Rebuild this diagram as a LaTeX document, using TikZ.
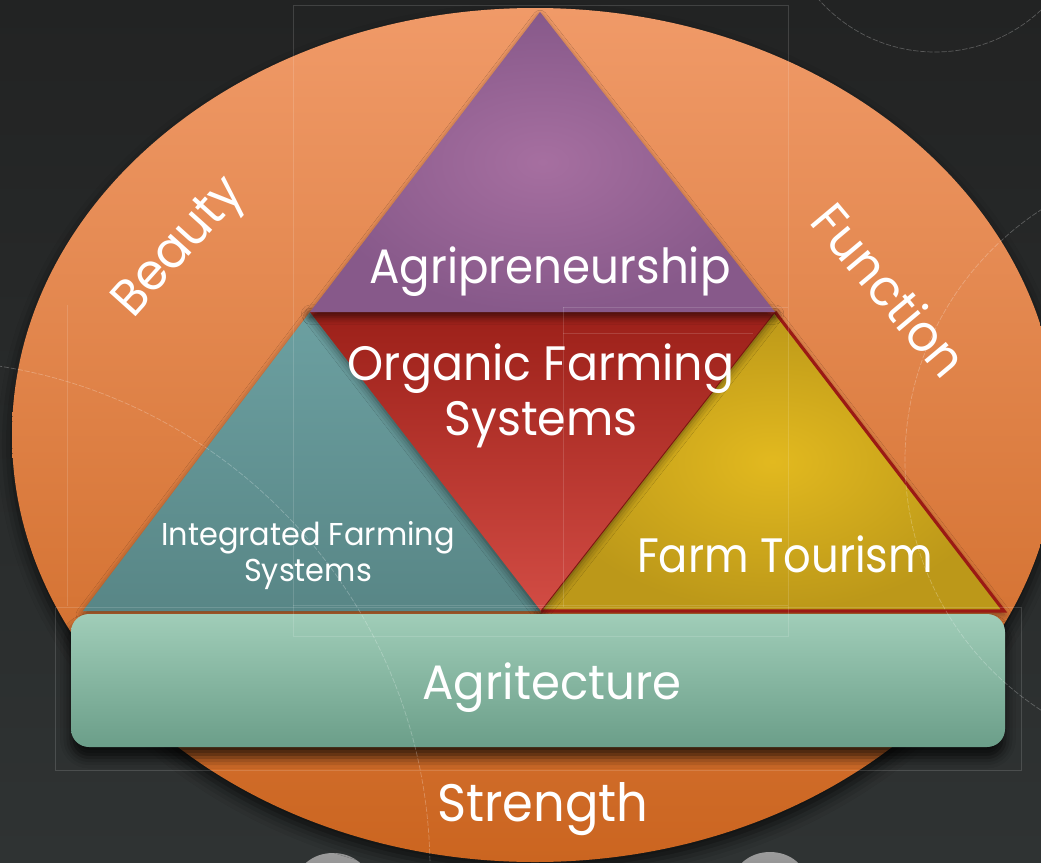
\documentclass[tikz,border=0pt]{standalone}
\usepackage{fontspec}
\setmainfont{Poppins}
\usetikzlibrary{shadows.blur}

\definecolor{bgtop}{HTML}{222323}
\definecolor{bgbot}{HTML}{2F3333}
\definecolor{orangetop}{HTML}{F09A68}
\definecolor{orangebot}{HTML}{CB6520}
\definecolor{purplein}{HTML}{A66FA0}
\definecolor{purpleout}{HTML}{87598A}
\definecolor{redtop}{HTML}{9C2019}
\definecolor{redbot}{HTML}{D24C44}
\definecolor{tealtop}{HTML}{6CA0A1}
\definecolor{tealbot}{HTML}{588686}
\definecolor{goldin}{HTML}{E2B91F}
\definecolor{goldout}{HTML}{BC9819}
\definecolor{edgered}{HTML}{9B1A14}
\definecolor{minttop}{HTML}{A0CDB8}
\definecolor{mintbot}{HTML}{6B9E89}
\definecolor{knobtop}{HTML}{9C9C9C}
\definecolor{knobbot}{HTML}{7A7A7A}

% horizontally condensed text
\newcommand{\narrow}[2]{\scalebox{#1}[1]{#2}}

\tikzset{
  softshadow/.style={blur shadow={shadow xshift=0pt, shadow yshift=-2pt,
      shadow blur radius=4pt, shadow opacity=45}},
  lbl/.style={text=white, inner sep=0pt, anchor=base},
  big/.style={lbl, font=\fontsize{27.5}{30}\selectfont},
  small/.style={lbl, font=\fontsize{18}{20}\selectfont},
  guide/.style={draw=white, draw opacity=0.14, line width=0.4pt},
  guidearc/.style={draw=white, draw opacity=0.25, line width=0.4pt, dash pattern=on 3pt off 1pt},
}

\begin{document}
\begin{tikzpicture}[x=0.02cm, y=-0.02cm]
  \useasboundingbox (0,0) rectangle (1041,862);
  % backdrop
  \shade[top color=bgtop, bottom color=bgbot] (0,0) rectangle (1041,862);

  % grey knobs peeking in at the lower edge
  \path[top color=knobtop, bottom color=knobbot] (333,884) ellipse [x radius=37, y radius=31];
  \path[top color=knobtop, bottom color=knobbot] (770,883) ellipse [x radius=37, y radius=31];

  % orange oval
  \path[blur shadow={shadow xshift=0pt, shadow yshift=-5pt, shadow blur radius=8pt, shadow opacity=70},
        top color=orangetop, bottom color=orangebot]
    (535,435) ellipse [x radius=523, y radius=427];

  % corner points of the triangle arrangement
  \coordinate (apex) at (540,12);
  \coordinate (ml) at (310,312);
  \coordinate (mr) at (775,312);
  \coordinate (bm) at (541,611);
  \coordinate (bl) at (83,611);
  \coordinate (br) at (1004,611);

  % left triangle
  \path[softshadow, top color=tealtop, bottom color=tealbot] (ml) -- (bl) -- (bm) -- cycle;
  % right triangle with dark red outline
  \path[softshadow, inner color=goldin, outer color=goldout] (mr) -- (bm) -- (br) -- cycle;
  \draw[edgered, line width=1.8pt, line join=miter] (mr) -- (br) -- (bm);
  % centre inverted triangle
  \path[blur shadow={shadow xshift=0pt, shadow yshift=-1pt, shadow blur radius=5pt, shadow opacity=55},
        top color=redtop, bottom color=redbot] (ml) -- (mr) -- (bm) -- cycle;
  \draw[edgered!80!black, line width=0.5pt] (mr) -- (bm);
  % top triangle
  \path[blur shadow={shadow xshift=0pt, shadow yshift=-3pt, shadow blur radius=4pt, shadow opacity=55},
        inner color=purplein, outer color=purpleout] (apex) -- (ml) -- (mr) -- cycle;

  % base bar
  \path[blur shadow={shadow xshift=0pt, shadow yshift=-6pt, shadow blur radius=6pt, shadow opacity=75},
        top color=minttop, bottom color=mintbot, rounded corners=0.36cm]
    (71,614) rectangle (1005,747);

  % labels
  \node[big] (agp) at (550,283) {\narrow{0.935}{Agripreneurship}};
  \node[big] (org1) at (541,380) {\narrow{0.95}{Organic Farming}};
  \node[big] (org2) at (541,435) {\narrow{0.95}{Systems}};
  \node[small] (ifs1) at (308,545) {\narrow{0.96}{Integrated Farming}};
  \node[small] (ifs2) at (308,581) {\narrow{0.96}{Systems}};
  \node[big] (tour) at (785,572) {\narrow{0.895}{Farm Tourism}};
  \node[big] (agt) at (552,699) {\narrow{0.965}{Agritecture}};
  \node[lbl, font=\fontsize{30}{33}\selectfont] (str) at (543,821) {\narrow{0.94}{Strength}};
  \node[lbl, anchor=center, font=\fontsize{29}{32}\selectfont, rotate=48] (bea) at (181,249) {\narrow{0.95}{Beauty}};
  \node[lbl, anchor=center, font=\fontsize{29}{32}\selectfont, rotate=-50] (fun) at (890,290) {\narrow{0.95}{Function}};

  % faint layout frames and guide arcs
  \draw[guide] (293,5) rectangle (788,636);
  \draw[guide] (55,607) rectangle (1021,770);
  \draw[guide] (67,305) -- (67,606);
  \draw[guide] (293,605) -- (788,605);
  \draw[guide] (563,307) -- (788,307);
  \draw[guide] (563,333) -- (753,333);
  \draw[guide] (563,307) -- (563,607);
  \draw[guidearc] (935,-103) circle [radius=155];
  \draw[guidearc] (-80,870) circle [radius=510];
  \draw[guidearc] (1203,460) circle [radius=298];
\end{tikzpicture}
\end{document}
